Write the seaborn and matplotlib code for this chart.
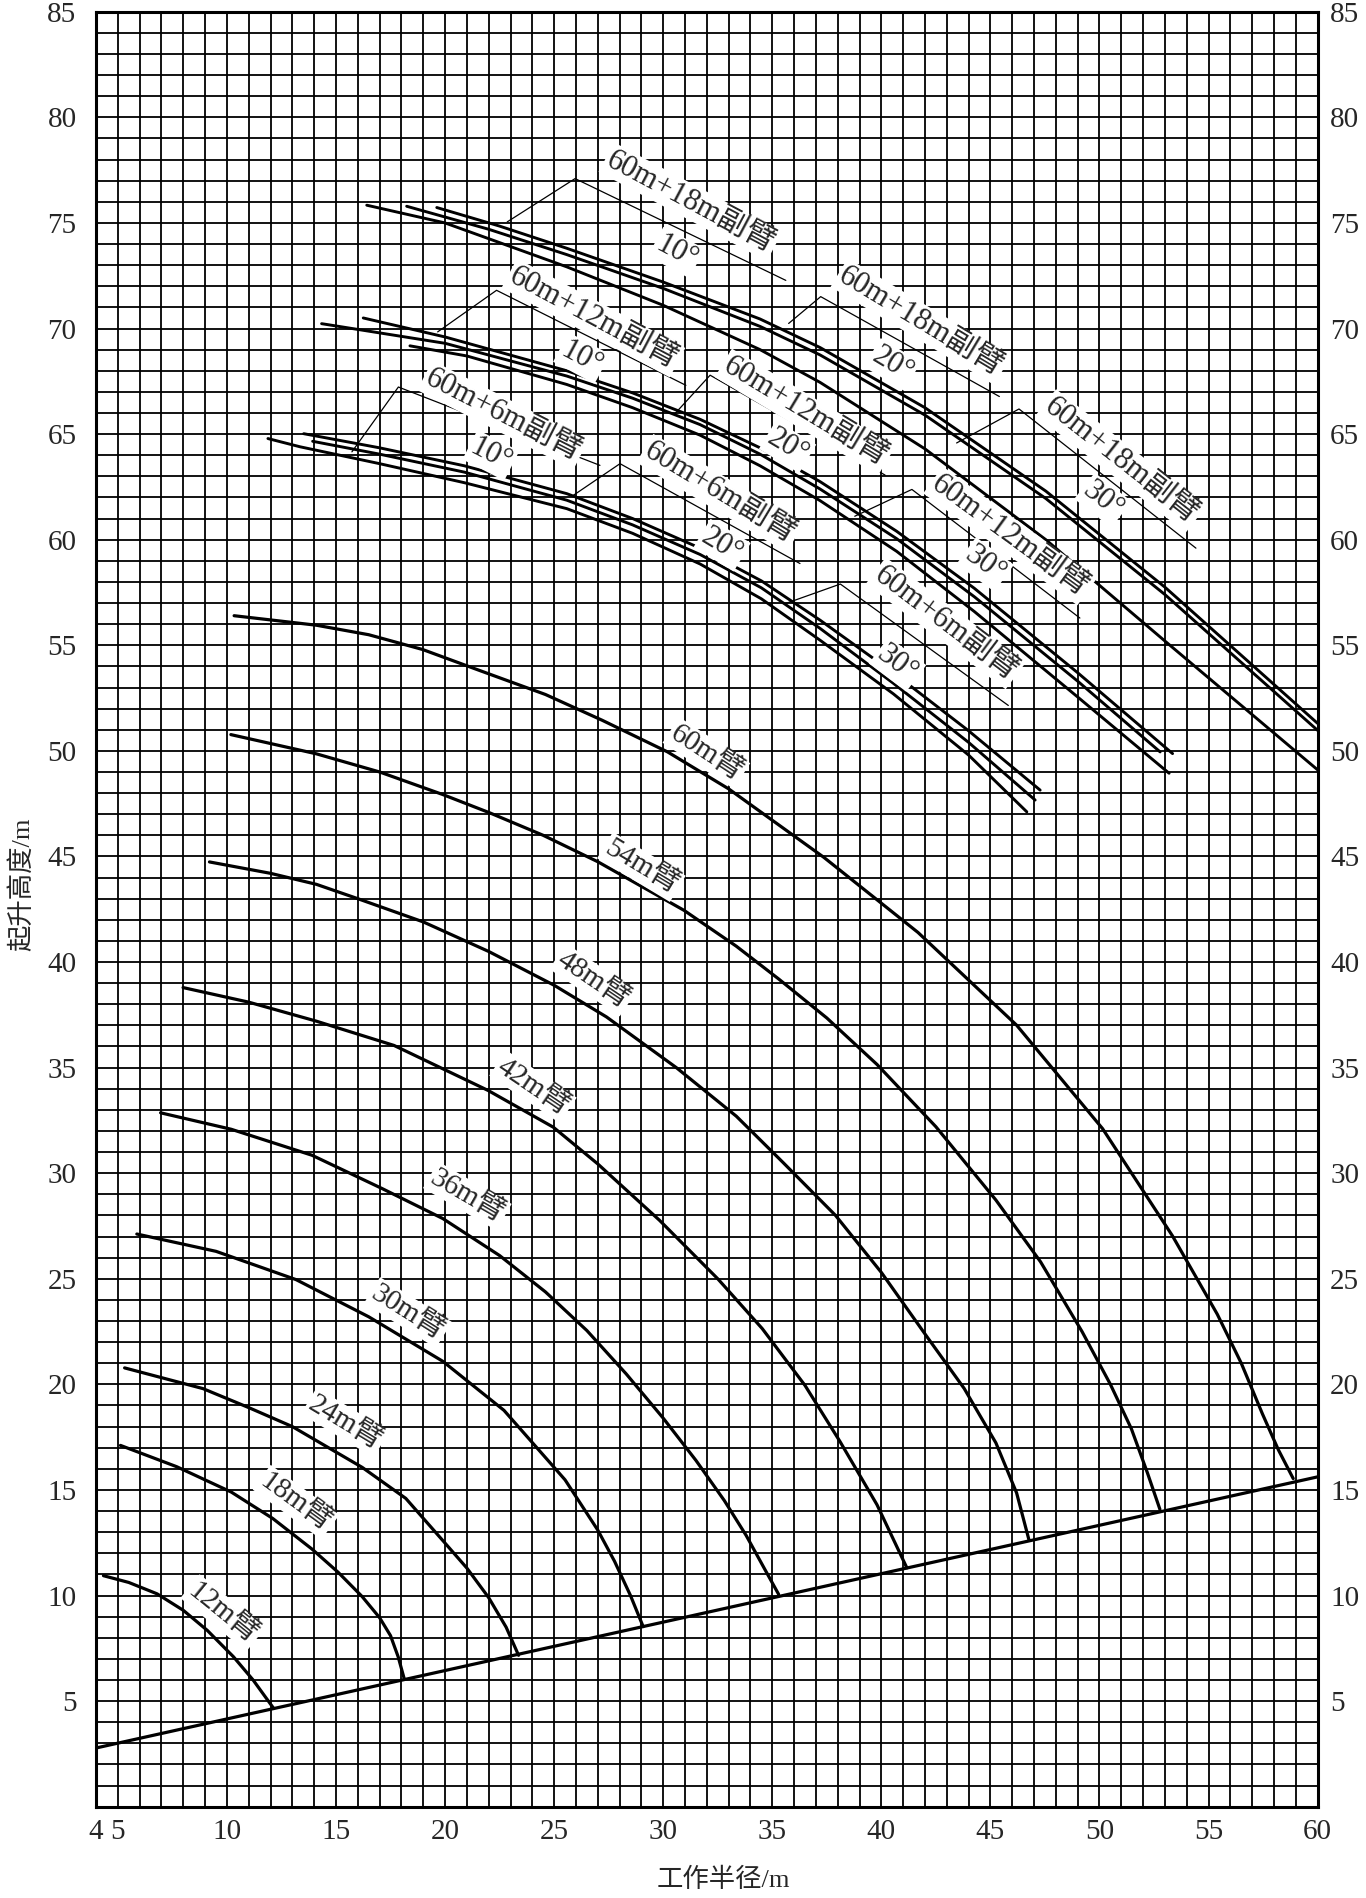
import numpy as np
import pandas as pd
import matplotlib
matplotlib.use('Agg')
import matplotlib.pyplot as plt
from matplotlib.ticker import MultipleLocator
import seaborn as sb

sb.set_style('white')
plt.rcParams['font.family'] = ['Liberation Serif', 'Noto Sans CJK SC']

# main boom working range curves: radius (m) -> lifting height (m)
boom_12_x = [4.34, 5.5, 6.8, 8.0, 9.1, 10.3, 11.2, 12.14]
boom_12_y = [10.94, 10.62, 10.08, 9.3, 8.35, 7.1, 6.0, 4.66]
boom_18_x = [5.12, 7.7, 10.2, 12.1, 13.9, 15.1, 16.2, 17.0, 17.5, 17.85, 18.13]
boom_18_y = [17.11, 16.1, 14.9, 13.65, 12.2, 11.1, 9.95, 8.95, 8.1, 7.1, 6.05]
boom_24_x = [5.31, 8.9, 11.0, 13.0, 16.2, 18.2, 19.9, 21.0, 22.0, 22.8, 23.37]
boom_24_y = [20.78, 19.8, 18.9, 18.0, 16.07, 14.6, 12.6, 11.3, 9.9, 8.5, 7.17]
boom_30_x = [5.87, 9.5, 13.17, 16.5, 19.9, 22.7, 25.5, 27.0, 27.77, 28.5, 29.08]
boom_30_y = [27.12, 26.3, 24.96, 23.2, 21.09, 18.77, 15.48, 13.1, 11.62, 10.0, 8.53]
boom_36_x = [6.96, 10.2, 13.9, 17.1, 19.9, 22.5, 24.6, 26.5, 28.3, 30.0, 31.5, 32.8, 33.8, 34.6, 35.29]
boom_36_y = [32.86, 32.08, 30.85, 29.28, 27.85, 26.1, 24.38, 22.55, 20.5, 18.4, 16.4, 14.5, 12.85, 11.35, 10.06]
boom_42_x = [7.99, 11.0, 14.1, 17.66, 21.97, 24.96, 27.0, 29.83, 32.5, 34.54, 36.5, 38.1, 39.8, 41.17]
boom_42_y = [38.79, 38.1, 37.2, 36.05, 33.92, 32.18, 30.44, 27.77, 25.0, 22.64, 19.95, 17.3, 14.3, 11.31]
boom_48_x = [9.2, 12.0, 14.1, 16.0, 19.0, 22.0, 25.0, 27.4, 30.6, 33.35, 35.5, 37.9, 40.0, 42.06, 43.8, 45.25, 46.2, 46.76]
boom_48_y = [44.74, 44.2, 43.68, 43.0, 41.9, 40.5, 38.9, 37.4, 35.0, 32.7, 30.5, 28.0, 25.3, 22.3, 19.8, 17.23, 14.86, 12.66]
boom_54_x = [10.18, 14.1, 17.0, 19.9, 22.06, 24.5, 27.0, 30.95, 33.35, 35.29, 37.5, 39.8, 42.5, 45.25, 47.3, 49.2, 50.5, 51.46, 52.2, 52.77]
boom_54_y = [50.77, 49.86, 49.0, 47.93, 47.06, 46.0, 44.75, 42.45, 40.75, 39.2, 37.35, 35.15, 32.2, 28.73, 25.8, 22.5, 20.0, 17.9, 15.8, 14.08]
boom_60_x = [10.33, 14.1, 16.5, 18.97, 21.6, 24.6, 27.2, 30.2, 33.0, 37.36, 41.68, 46.2, 50.14, 53.34, 55.4, 56.5, 57.47, 58.2, 58.88]
boom_60_y = [56.4, 55.95, 55.5, 54.8, 53.8, 52.67, 51.45, 49.95, 48.2, 44.96, 41.4, 37.01, 32.11, 27.04, 23.32, 21.0, 18.6, 16.9, 15.54]

# 60m boom + fly jib curves, three offsets per jib length
jib6_a_x = [11.88, 13.35, 17.0, 20.88, 25.58, 28.6, 31.69, 34.5, 37.19, 40.55, 44.0, 46.67]
jib6_a_y = [64.79, 64.4, 63.6, 62.7, 61.47, 60.3, 58.85, 57.2, 55.24, 52.7, 49.8, 47.11]
jib6_b_x = [13.52, 17.0, 20.88, 25.58, 28.6, 31.69, 34.5, 37.19, 40.55, 44.0, 47.28]
jib6_b_y = [65.02, 64.35, 63.5, 62.18, 61.0, 59.6, 58.05, 56.19, 53.7, 50.95, 48.14]
jib6_c_x = [13.93, 17.0, 20.88, 25.58, 28.6, 31.69, 34.5, 37.19, 40.55, 44.0, 47.05]
jib6_c_y = [64.66, 64.05, 63.2, 61.87, 60.7, 59.3, 57.72, 55.8, 53.2, 50.4, 47.67]
jib12_a_x = [14.34, 20.0, 25.58, 28.6, 31.69, 34.44, 37.19, 40.7, 44.26, 49.0, 52.78]
jib12_a_y = [70.23, 69.3, 67.75, 66.7, 65.45, 64.05, 62.4, 60.05, 57.3, 53.3, 49.95]
jib12_b_x = [16.25, 20.0, 25.58, 28.6, 31.69, 34.44, 37.19, 40.7, 44.26, 49.0, 53.35]
jib12_b_y = [70.5, 69.6, 68.0, 66.95, 65.7, 64.35, 62.75, 60.4, 57.7, 53.7, 49.87]
jib12_c_x = [18.39, 21.0, 25.58, 28.6, 31.69, 34.44, 37.19, 40.7, 44.26, 49.0, 53.19]
jib12_c_y = [69.18, 68.7, 67.35, 66.25, 64.95, 63.5, 61.85, 59.45, 56.6, 52.55, 48.94]
jib18_a_x = [16.41, 20.0, 25.58, 30.0, 34.44, 37.19, 42.0, 47.54, 53.0, 60.0]
jib18_a_y = [75.84, 75.0, 72.92, 71.1, 69.0, 67.45, 64.3, 60.0, 55.2, 49.1]
jib18_b_x = [18.24, 22.0, 25.58, 30.0, 34.44, 37.19, 42.0, 47.54, 53.0, 60.0]
jib18_b_y = [75.79, 74.7, 73.5, 71.9, 70.1, 68.75, 65.9, 61.95, 57.4, 50.97]
jib18_c_x = [19.62, 22.5, 25.58, 30.0, 34.44, 37.19, 42.0, 47.54, 53.0, 60.0]
jib18_c_y = [75.73, 74.85, 73.8, 72.2, 70.45, 69.1, 66.25, 62.3, 57.75, 51.3]

# ground line on which the boom curves end
base_x = [4, 60]
base_y = [2.78, 15.62]

# leader brackets for the jib labels: foot, peak, end
lead_x = [[22.85, 25.96, 35.62], [19.66, 22.36, 31.04], [15.73, 17.86, 27.1],
          [35.75, 37.22, 45.41], [30.54, 32.15, 40.17], [25.88, 28.02, 36.27],
          [43.45, 46.31, 54.42], [38.78, 41.4, 49.1], [35.59, 38.12, 45.82]]
lead_y = [[75.05, 77.1, 72.28], [69.84, 71.81, 67.31], [64.16, 67.23, 63.52],
          [70.24, 71.51, 66.78], [65.97, 67.79, 63.06], [62.1, 63.6, 58.87],
          [64.58, 66.19, 59.6], [61.11, 62.38, 56.29], [56.97, 57.9, 52.15]]

jib_names = ['60m+18m副臂', '60m+12m副臂', '60m+6m副臂'] * 3
jib_angles = ['10°'] * 3 + ['20°'] * 3 + ['30°'] * 3
jib_name_x = [31.25, 26.8, 22.65, 41.81, 36.5, 32.6, 50.98, 45.9, 42.95]
jib_name_y = [76.0, 70.5, 65.9, 70.33, 66.05, 62.2, 63.73, 60.18, 56.04]
jib_deg_x = [30.6, 26.26, 22.1, 40.5, 35.7, 32.7, 50.16, 44.76, 40.74]
jib_deg_y = [73.6, 68.6, 64.0, 68.3, 64.4, 59.74, 61.87, 58.83, 54.1]
jib_rot = [28, 28, 27, 31, 31, 31, 38, 36, 37]

boom_names = ['12m臂', '18m臂', '24m臂', '30m臂', '36m臂', '42m臂', '48m臂', '54m臂', '60m臂']
boom_lab_x = [9.82, 13.17, 15.42, 18.3, 21.02, 24.03, 26.78, 29.0, 31.98]
boom_lab_y = [9.18, 14.42, 18.19, 23.4, 28.92, 34.1, 39.15, 44.5, 49.9]
boom_rot = [39, 36, 31, 32, 30, 34, 34, 31, 33]

x_ticks = [4, 5, 10, 15, 20, 25, 30, 35, 40, 45, 50, 55, 60]
y_ticks = [5, 10, 15, 20, 25, 30, 35, 40, 45, 50, 55, 60, 65, 70, 75, 80, 85]

booms = [(boom_12_x, boom_12_y), (boom_18_x, boom_18_y), (boom_24_x, boom_24_y),
         (boom_30_x, boom_30_y), (boom_36_x, boom_36_y), (boom_42_x, boom_42_y),
         (boom_48_x, boom_48_y), (boom_54_x, boom_54_y), (boom_60_x, boom_60_y)]
jibs = [(jib6_a_x, jib6_a_y), (jib6_b_x, jib6_b_y), (jib6_c_x, jib6_c_y),
        (jib12_a_x, jib12_a_y), (jib12_b_x, jib12_b_y), (jib12_c_x, jib12_c_y),
        (jib18_a_x, jib18_a_y), (jib18_b_x, jib18_b_y), (jib18_c_x, jib18_c_y)]

fig = plt.figure(figsize=(13.66, 18.98), dpi=100)
ax = fig.add_axes([0.0703, 0.0481, 0.8943, 0.9457])

for bx, by in booms:
    sb.lineplot(x=bx, y=by, sort=False, estimator=None, color='black',
                linewidth=2.3, legend=False, ax=ax)
for jx, jy in jibs:
    sb.lineplot(x=jx, y=jy, sort=False, estimator=None, color='black',
                linewidth=2.1, legend=False, ax=ax)
sb.lineplot(x=base_x, y=base_y, sort=False, estimator=None, color='black',
            linewidth=2.3, legend=False, ax=ax)
for lx, ly in zip(lead_x, lead_y):
    ax.plot(lx, ly, color='black', linewidth=0.9, zorder=3)

box = dict(facecolor='white', edgecolor='none', pad=1.5)
for name, lx, ly, r in zip(boom_names, boom_lab_x, boom_lab_y, boom_rot):
    ax.text(lx, ly, name, rotation=-r, rotation_mode='anchor', ha='center',
            va='center', fontsize=21, bbox=box, zorder=6)
for name, nx, ny, ang, dx, dy, r in zip(jib_names, jib_name_x, jib_name_y, jib_angles,
                                          jib_deg_x, jib_deg_y, jib_rot):
    ax.text(nx, ny, name, rotation=-r, rotation_mode='anchor', ha='center',
            va='center', fontsize=22, bbox=box, zorder=6)
    ax.text(dx, dy, ang, rotation=-r, rotation_mode='anchor', ha='center',
            va='center', fontsize=22, bbox=box, zorder=6)

ax.set_xlim(4, 60)
ax.set_ylim(0, 85)
ax.set_xticks(x_ticks)
ax.set_yticks(y_ticks)
ax.xaxis.set_minor_locator(MultipleLocator(1))
ax.yaxis.set_minor_locator(MultipleLocator(1))
ax.set_axisbelow(True)
ax.grid(which='both', color='black', linewidth=1.3)
ax.tick_params(which='both', length=0, labelsize=21)
ax.tick_params(axis='x', pad=9)
ax.tick_params(axis='y', pad=14)
for s in ax.spines.values():
    s.set_linewidth(2.2)
    s.set_color('black')

ax2 = ax.twinx()
ax2.set_ylim(0, 85)
ax2.set_yticks(y_ticks)
ax2.tick_params(length=0, labelsize=21, pad=9)
for s in ax2.spines.values():
    s.set_visible(False)

fig.text(22 / 1366, 1 - 884 / 1898, '起升高度/m', rotation=90, ha='center',
         va='center', fontsize=19)
fig.text(723 / 1366, 1 - 1880 / 1898, '工作半径/m', ha='center', va='center',
         fontsize=19)

fig.savefig('out.png', dpi=100)
